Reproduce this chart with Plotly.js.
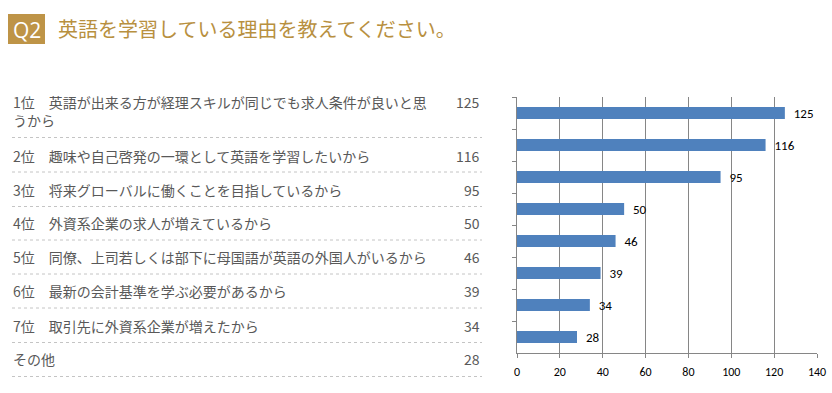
<!DOCTYPE html>
<html>
<head>
<meta charset="utf-8">
<script src="https://cdn.plot.ly/plotly-3.0.1.min.js"></script>
<style>
html,body{margin:0;padding:0;background:#fff;}
#chart{width:832px;height:393px;}
</style>
</head>
<body>
<div id="chart"></div>
<script>
// ---- data ----
var ranks = ["1位", "2位", "3位", "4位", "5位", "6位", "7位", ""];
var reasons = [
  "英語が出来る方が経理スキルが同じでも求人条件が良いと思<br>うから",
  "趣味や自己啓発の一環として英語を学習したいから",
  "将来グローバルに働くことを目指しているから",
  "外資系企業の求人が増えているから",
  "同僚、上司若しくは部下に母国語が英語の外国人がいるから",
  "最新の会計基準を学ぶ必要があるから",
  "取引先に外資系企業が増えたから",
  "その他"
];
var counts = [125, 116, 95, 50, 46, 39, 34, 28];
var categories = ["c1", "c2", "c3", "c4", "c5", "c6", "c7", "c8"];
var titleQ = "Q2";
var titleText = "英語を学習している理由を教えてください。";
var xTicks = [0, 20, 40, 60, 80, 100, 120, 140];

// ---- layout helpers (pixel -> paper) ----
var W = 832, H = 393;
function px(x){ return x / W; }
function py(y){ return 1 - y / H; }

var gold = "#BE9447";
var textGrey = "#595959";
var jpFont = "'Noto Sans CJK JP', 'Noto Sans', sans-serif";
var numFont = "Carlito, Lato, 'Liberation Sans', sans-serif";

var annotations = [];
var shapes = [];

// Title box + title
shapes.push({type:"rect", xref:"paper", yref:"paper",
  x0:px(8), x1:px(45), y0:py(44), y1:py(14),
  fillcolor:gold, line:{width:0}, layer:"below"});
annotations.push({xref:"paper", yref:"paper", x:px(26.5), y:py(29.5),
  text:titleQ, showarrow:false, xanchor:"center", yanchor:"middle",
  font:{family:"'Open Sans', 'Noto Sans', sans-serif", size:21, color:"#ffffff"}});
annotations.push({xref:"paper", yref:"paper", x:px(56), y:py(28.5),
  text:titleText, showarrow:false, xanchor:"left", yanchor:"middle",
  font:{family:jpFont, size:20, color:"#B8903F"}});

// Table rows
var rowCenters = [111, 155.7, 190, 223, 256.7, 291, 325.5, 358.5];
var valueCenters = [101.5, 155.7, 190, 223, 256.7, 291, 325.5, 358.5];
var sepLines = [137.5, 172, 206.5, 240, 274, 308, 342.5, 376.5];
for (var i = 0; i < reasons.length; i++) {
  var label = ranks[i] ? (ranks[i] + "　" + reasons[i]) : reasons[i];
  annotations.push({xref:"paper", yref:"paper", x:px(11), y:py(rowCenters[i]),
    text:label, showarrow:false, xanchor:"left", yanchor:"middle", align:"left",
    font:{family:jpFont, size:14, color:textGrey}});
  annotations.push({xref:"paper", yref:"paper", x:px(482), y:py(valueCenters[i]),
    text:String(counts[i]), showarrow:false, xanchor:"right", yanchor:"middle",
    font:{family:jpFont, size:14, color:textGrey}});
  shapes.push({type:"line", xref:"paper", yref:"paper",
    x0:px(12), x1:px(482), y0:py(sepLines[i]), y1:py(sepLines[i]),
    line:{color:"#c4c4c4", width:1, dash:"dot"}});
}

var trace = {
  type:"bar", orientation:"h",
  x:counts, y:categories,
  marker:{color:"#4F81BD", line:{width:0}},
  width:0.37,
  text:counts.map(function(v){ return "  " + v; }),
  textposition:"outside",
  constraintext:"none",
  cliponaxis:false,
  textfont:{family:numFont, size:13, color:"#000000"},
  hoverinfo:"skip"
};

var layout = {
  width:W, height:H,
  margin:{l:0, r:0, t:0, b:0},
  paper_bgcolor:"#ffffff", plot_bgcolor:"#ffffff",
  showlegend:false,
  xaxis:{
    domain:[px(517), px(817)],
    range:[0, 140], tickmode:"array", tickvals:xTicks,
    showgrid:true, gridcolor:"#868686", gridwidth:1,
    zeroline:false, showline:true, linecolor:"#868686", linewidth:1,
    ticks:"outside", ticklen:4, tickcolor:"#868686",
    ticklabelstandoff:4,
    tickfont:{family:numFont, size:12, color:"#000000"},
    fixedrange:true
  },
  yaxis:{
    domain:[py(353), py(97)],
    type:"category", categoryorder:"array", categoryarray:categories,
    autorange:"reversed",
    showticklabels:false, tickson:"boundaries",
    ticks:"outside", ticklen:4, tickcolor:"#868686",
    showgrid:false, zeroline:false,
    showline:true, linecolor:"#868686", linewidth:1,
    fixedrange:true
  },
  shapes:shapes,
  annotations:annotations
};

Plotly.newPlot("chart", [trace], layout, {displayModeBar:false, staticPlot:true});
</script>
</body>
</html>
